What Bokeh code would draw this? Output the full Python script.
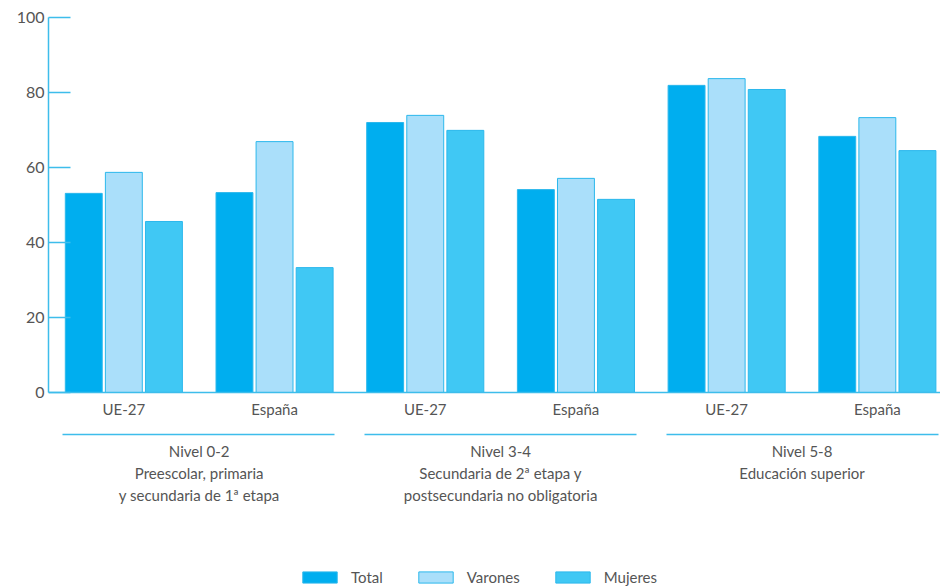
from bokeh.plotting import figure
from bokeh.models import (ColumnDataSource, Range1d, LinearAxis, FixedTicker,
                          Legend, LegendItem)
from bokeh.embed import file_html
from bokeh.resources import INLINE

# ---- data ----
categories = ["UE-27", "España", "UE-27", "España", "UE-27", "España"]
groups = ["Nivel 0-2\nPreescolar, primaria\ny secundaria de 1ª etapa",
          "Nivel 3-4\nSecundaria de 2ª etapa y\npostsecundaria no obligatoria",
          "Nivel 5-8\nEducación superior"]
series = ["Total", "Varones", "Mujeres"]
total = [53.1, 53.3, 72.0, 54.1, 81.9, 68.3]
varones = [58.7, 66.9, 73.9, 57.1, 83.7, 73.3]
mujeres = [45.6, 33.3, 69.9, 51.5, 80.8, 64.5]
y_ticks = [0, 20, 40, 60, 80, 100]

fills = ["#00AEEF", "#AADFFA", "#40C8F4"]
edge = "#2CB8EC"
axis_col = "#3DBDEB"
text_col = "#555555"
FONT = "Lato"

FW = 892
FH = 571
Y_BOTTOM = -52.27   # extra room below the zero line for labels and legend
GROUP_LINE_Y = -11.2
p = figure(frame_width=FW, frame_height=FH, min_border_left=48,
           min_border_top=17, min_border_right=0, min_border_bottom=0,
           output_backend="svg", toolbar_location=None,
           x_range=Range1d(0, FW / 150.7), y_range=Range1d(Y_BOTTOM, 100),
           x_axis_location=None, y_axis_location="left")
p.outline_line_color = None
p.grid.visible = False

centers = [i + 0.5 for i in range(len(categories))]
offsets = [-0.266, 0.0, 0.266]
renderers = []
for s, vals, off, col in zip(series, [total, varones, mujeres], offsets, fills):
    src = ColumnDataSource(dict(x=[c + off for c in centers], top=vals))
    r = p.vbar(x="x", top="top", width=0.245, bottom=0, source=src,
               fill_color=col, line_color=edge, line_width=1)
    renderers.append(r)

# y axis
ya = p.yaxis[0]
ya.ticker = FixedTicker(ticks=y_ticks)
ya.bounds = (0, 100)
ya.axis_line_color = axis_col
ya.axis_line_width = 1.5
ya.major_tick_line_color = axis_col
ya.major_tick_line_width = 1.5
ya.major_tick_in = 22
ya.major_tick_out = 0
ya.minor_tick_line_color = None
ya.major_label_text_font = FONT
ya.major_label_text_font_size = "16px"
ya.major_label_text_color = text_col
ya.major_label_standoff = 4

# category axis at y = 0
xa = LinearAxis(ticker=FixedTicker(ticks=centers), fixed_location=0,
                major_label_overrides={c: n for c, n in zip(centers, categories)})
xa.axis_line_color = axis_col
xa.axis_line_width = 1.5
xa.major_tick_line_color = None
xa.minor_tick_line_color = None
xa.major_label_text_font = FONT
xa.major_label_text_font_size = "15px"
xa.major_label_text_color = text_col
xa.major_label_standoff = 2
p.add_layout(xa, "below")

# group axis
gcenters = [1.0, 3.0, 5.0]
ga = LinearAxis(ticker=FixedTicker(ticks=gcenters), fixed_location=GROUP_LINE_Y,
                major_label_overrides={c: g for c, g in zip(gcenters, groups)})
ga.axis_line_color = axis_col
ga.axis_line_width = 1.5
ga.axis_line_dash = "272 30"
ga.axis_line_dash_offset = 288
ga.major_tick_line_color = None
ga.minor_tick_line_color = None
ga.major_label_text_font = FONT
ga.major_label_text_font_size = "15px"
ga.major_label_text_color = text_col
ga.major_label_text_line_height = 1.2
ga.major_label_standoff = 2
p.add_layout(ga, "below")

legend = Legend(items=[LegendItem(label=s, renderers=[r]) for s, r in zip(series, renderers)],
                orientation="horizontal", location=(250, 2),
                glyph_width=43, glyph_height=14, label_text_font=FONT,
                label_text_font_size="15px", label_text_color=text_col,
                spacing=31, label_standoff=10, border_line_color=None,
                background_fill_alpha=0, margin=0, padding=0)
p.add_layout(legend, "center")

open("out.html", "w").write(file_html(p, INLINE))
